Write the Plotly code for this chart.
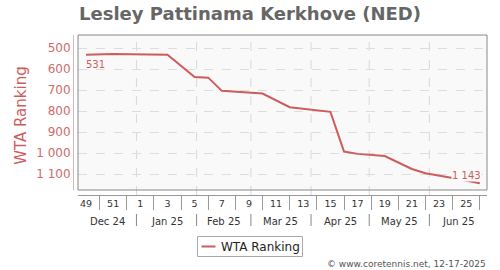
import datetime as dt
import plotly.graph_objects as go

# ---- data ----
week_numbers = [49, 50, 51, 52] + list(range(1, 27))          # weekly slots on the x axis
point_weeks = [49, 51, 3, 5, 6, 7, 10, 12, 15, 16, 17, 19, 21, 22, 24, 26]
point_ranks = [531, 527, 531, 637, 640, 703, 716, 781, 803, 992, 1003, 1013, 1075, 1095, 1118, 1143]
month_labels = ["Dec 24", "Jan 25", "Feb 25", "Mar 25", "Apr 25", "May 25", "Jun 25"]
month_starts = ["2025-01-01", "2025-02-01", "2025-03-01", "2025-04-01", "2025-05-01", "2025-06-01"]
y_ticks = [500, 600, 700, 800, 900, 1000, 1100]
first_week_date = "2024-12-06"
series_name = "WTA Ranking"

# ---- derived positions ----
slot = {}
for i, w in enumerate(week_numbers):
    key = (2024 if (i < 4) else 2025, w)
    slot[key] = i
xs = []
for w in point_weeks:
    key = (2024, w) if w >= 49 else (2025, w)
    xs.append(slot[key])

base = dt.date.fromisoformat(first_week_date)
boundaries = [(dt.date.fromisoformat(d) - base).days / 7 for d in month_starts]

X_RANGE = [-0.59, 29.53]
Y_RANGE = [1175, 437]

LINE = "#cd5c5c"
FONT = "DejaVu Sans"

# paper-coordinate helpers (plot area: x 73..487, y 35..195)
def px_x(p):
    return (p - 73) / 414

def px_y(p):
    return (195 - p) / 160

fig = go.Figure()
fig.add_trace(go.Scatter(
    x=xs, y=point_ranks, mode="lines", name=series_name,
    line=dict(color=LINE, width=2), showlegend=False,
))

label_vals = list(range(0, len(week_numbers), 2))
label_text = [str(week_numbers[i]) for i in label_vals]
sep_vals = list(range(1, len(week_numbers), 2))

shapes = []
for b in boundaries:
    shapes.append(dict(type="line", xref="x", yref="paper", x0=b, x1=b, y0=0, y1=1,
                       line=dict(color="#d8d8d8", width=1, dash="dash"), layer="below"))
    shapes.append(dict(type="line", xref="x", yref="paper", x0=b, x1=b,
                       y0=px_y(214), y1=px_y(226),
                       line=dict(color="#888888", width=1)))
shapes.append(dict(type="rect", xref="x domain", yref="y domain", x0=0, x1=1, y0=0, y1=1,
                   line=dict(color="#888888", width=1)))
# legend box
shapes.append(dict(type="rect", xref="paper", yref="paper",
                   x0=px_x(197.5), x1=px_x(302.5), y0=px_y(236.5), y1=px_y(256.5),
                   line=dict(color="#aaaaaa", width=1), fillcolor="white"))
shapes.append(dict(type="line", xref="paper", yref="paper",
                   x0=px_x(201.5), x1=px_x(215.5), y0=px_y(246.5), y1=px_y(246.5),
                   line=dict(color=LINE, width=2)))

annotations = []
edges = [X_RANGE[0]] + boundaries + [X_RANGE[1]]
for k, lab in enumerate(month_labels):
    c = (edges[k] + edges[k + 1]) / 2
    annotations.append(dict(x=c, y=px_y(221), xref="x", yref="paper", text=lab, showarrow=False,
                            xanchor="center", yanchor="middle",
                            font=dict(family=FONT, size=10, color="#333333")))

annotations.append(dict(x=xs[0], y=point_ranks[0], xref="x", yref="y", text=f"{point_ranks[0]}",
                        showarrow=False, xanchor="left", yanchor="top", yshift=-2, xshift=-2,
                        font=dict(family=FONT, size=10, color=LINE)))
last = point_ranks[-1]
annotations.append(dict(x=xs[-1], y=last, xref="x", yref="y",
                        text=f"{last:,}".replace(",", " "),
                        showarrow=False, xanchor="right", yanchor="bottom", yshift=1, xshift=2,
                        bgcolor="#f9f9f9", borderpad=0,
                        font=dict(family=FONT, size=10, color=LINE)))
annotations.append(dict(x=-0.126, y=0.5, xref="paper", yref="paper", text="WTA Ranking",
                        textangle=-90, showarrow=False, xanchor="center", yanchor="middle",
                        font=dict(family=FONT, size=15, color=LINE)))
annotations.append(dict(x=px_x(219), y=px_y(246.5), xref="paper", yref="paper",
                        text=series_name, showarrow=False, xanchor="left", yanchor="middle",
                        font=dict(family=FONT, size=12, color="#222222")))
annotations.append(dict(x=1.003, y=px_y(264), xref="paper", yref="paper",
                        text="© www.coretennis.net, 12-17-2025", showarrow=False,
                        xanchor="right", yanchor="middle",
                        font=dict(family=FONT, size=9, color="#555555")))

fig.update_layout(
    width=500, height=270,
    margin=dict(l=73, r=13, t=35, b=75, autoexpand=False),
    paper_bgcolor="white", plot_bgcolor="#f9f9f9",
    separators=". ",
    font=dict(family=FONT),
    showlegend=False,
    title=dict(text="<b>Lesley Pattinama Kerkhove (NED)</b>", x=0.5, xref="container",
               y=1 - 14 / 270, yref="container", xanchor="center", yanchor="middle",
               font=dict(family=FONT, size=18, color="#666666")),
    xaxis=dict(domain=[5 / 414, 1], range=X_RANGE, anchor="free", position=0,
               showgrid=False, zeroline=False, showline=True, linecolor="#999999",
               tickmode="array", tickvals=label_vals, ticktext=label_text,
               ticks="",
               tickfont=dict(family=FONT, size=9.5, color="#333333"),
               minor=dict(tickmode="array", tickvals=sep_vals, ticks="outside",
                          ticklen=14, tickcolor="#999999", showgrid=False)),
    yaxis=dict(domain=[5 / 160, 1], range=Y_RANGE, anchor="free", position=0,
               tickmode="array", tickvals=y_ticks, ticks="", separatethousands=True,
               showgrid=True, gridcolor="#dddddd", griddash="dash", gridwidth=1,
               zeroline=False, showline=True, linecolor="#e6b3b3",
               tickfont=dict(family=FONT, size=12, color="#cd6b6b")),
    shapes=shapes, annotations=annotations,
)

fig.write_html("out.html")
